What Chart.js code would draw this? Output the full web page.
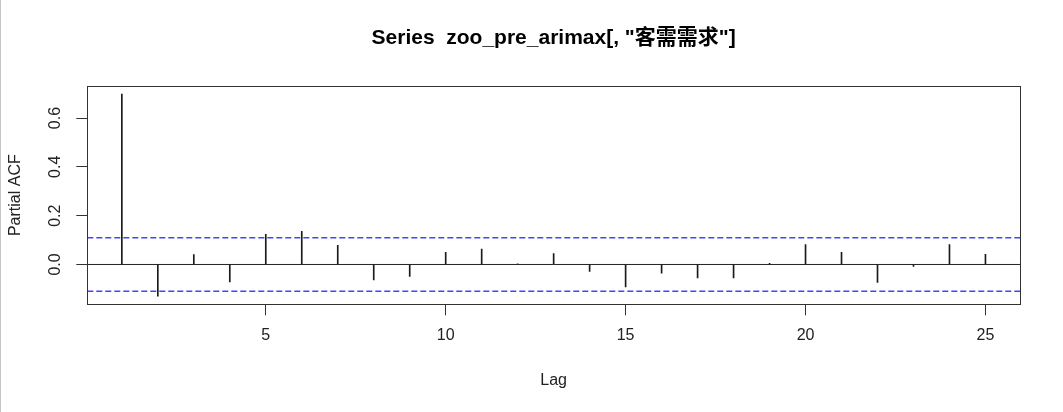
<!DOCTYPE html>
<html>
<head>
<meta charset="utf-8">
<script src="https://cdn.jsdelivr.net/npm/chart.js@4"></script>
<style>
  body { margin: 0; background: #fff; }
  .wrap { border-left: 1px solid #c4c4c4; width: 1062px; height: 412px; }
  canvas { display: block; }
</style>
</head>
<body>
<div class="wrap"><canvas id="myChart" width="1062" height="412"></canvas></div>
<script>
// PACF values, lag 1..25
const lags = [1, 2, 3, 4, 5, 6, 7, 8, 9, 10, 11, 12, 13, 14, 15, 16, 17, 18, 19, 20, 21, 22, 23, 24, 25]
const pacf = [0.698, -0.130, 0.041, -0.071, 0.123, 0.136, 0.078, -0.063, -0.049, 0.050, 0.063, 0.003, 0.045,
    -0.028, -0.092, -0.036, -0.055, -0.055, 0.005, 0.082, 0.050, -0.073, -0.008, 0.082, 0.042]
const clim = 0.11   // blue confidence bound
const xTicks = [5, 10, 15, 20, 25]
const yTicks = [0, 0.2, 0.4, 0.6]
const titleText = 'Series  zoo_pre_arimax[, "客需需求"]'

// R style axis limits: data range plus 4% each side
const xMin = lags[0] - 0.04 * (lags[lags.length - 1] - lags[0])
const xMax = lags[lags.length - 1] + 0.04 * (lags[lags.length - 1] - lags[0])
const lo = Math.min(-clim, ...pacf), hi = Math.max(clim, ...pacf)
const yMin = lo - 0.04 * (hi - lo)
const yMax = hi + 0.04 * (hi - lo)

const font = "'Liberation Sans', Arial, 'Noto Sans CJK SC', sans-serif"
const ink = '#222'

const hline = (y, color, dash, w) => ({
    type: 'line',
    data: [{x: xMin, y: y}, {x: xMax, y: y}],
    borderColor: color,
    borderWidth: w,
    borderDash: dash,
    pointRadius: 0,
    fill: false
})

// frame round the plot + title centred over the plot region (like R)
const boxPlugin = {
    id: 'box',
    afterDraw(chart) {
        const {ctx, chartArea: a} = chart
        ctx.save()
        ctx.strokeStyle = '#333'
        ctx.lineWidth = 1
        ctx.strokeRect(Math.round(a.left) + 0.5, Math.round(a.top) + 0.5,
            Math.round(a.right - a.left), Math.round(a.bottom - a.top))
        ctx.fillStyle = '#000'
        ctx.font = 'bold 21px ' + font
        ctx.textAlign = 'center'
        ctx.textBaseline = 'middle'
        ctx.fillText(titleText, (a.left + a.right) / 2, 38)
        ctx.restore()
    }
}

const config = {
    type: 'bar',
    data: {
        datasets: [
            {
                type: 'bar',
                data: lags.map((l, i) => ({x: l, y: pacf[i]})),
                backgroundColor: '#1a1a1a',
                barThickness: 1,
                borderWidth: 0
            },
            hline(0, '#222', [], 1),
            hline(clim, '#4444ff', [6, 3], 1.5),
            hline(-clim, '#4444ff', [6, 3], 1.5)
        ]
    },
    options: {
        responsive: false,
        animation: false,
        layout: {padding: {left: 0, right: 43, top: 86, bottom: 0}},
        plugins: {
            legend: {display: false},
            tooltip: {enabled: false},
            title: {display: false}
        },
        scales: {
            x: {
                type: 'linear',
                min: xMin,
                max: xMax,
                offset: false,
                afterBuildTicks: s => { s.ticks = xTicks.map(v => ({value: v})) },
                afterFit: s => { s.height = 107.7 },
                border: {display: false},
                grid: {offset: false, drawOnChartArea: false, drawTicks: true, tickLength: 11, color: '#333'},
                ticks: {color: ink, font: {family: font, size: 16}, padding: 11, maxRotation: 0},
                title: {display: true, text: 'Lag', color: ink, font: {family: font, size: 16}, padding: {top: 0, bottom: 22}}
            },
            y: {
                min: yMin,
                max: yMax,
                afterBuildTicks: s => { s.ticks = yTicks.map(v => ({value: v})) },
                afterFit: s => { s.width = 86.3 },
                border: {display: false},
                grid: {drawOnChartArea: false, drawTicks: true, tickLength: 11, color: '#333'},
                ticks: {
                    color: ink, font: {family: font, size: 16}, padding: 10,
                    minRotation: 90, maxRotation: 90, crossAlign: 'center',
                    callback: v => v.toFixed(1)
                },
                title: {display: true, text: 'Partial ACF', color: ink, font: {family: font, size: 16}, padding: {top: 5, bottom: 0}}
            }
        }
    },
    plugins: [boxPlugin]
}

new Chart(document.getElementById('myChart'), config)
</script>
</body>
</html>
